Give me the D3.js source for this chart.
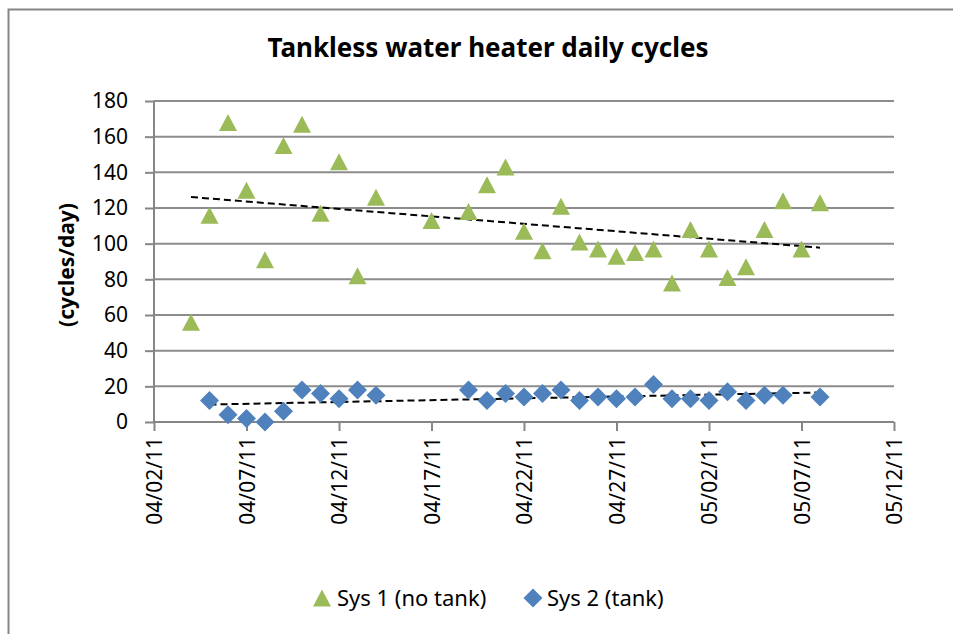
<!DOCTYPE html>
<html>
<head>
<meta charset="utf-8">
<script src="https://cdn.jsdelivr.net/npm/d3@7"></script>
<style>
  body { margin: 0; background: #fff; }
  svg { display: block; font-family: "Noto Sans", "Open Sans", sans-serif; }
</style>
</head>
<body>
<div id="chart"></div>
<script>
// data (mm/dd/yy, cycles per day)
var sys1Dates = ['04/04/11','04/05/11','04/06/11','04/07/11','04/08/11','04/09/11','04/10/11','04/11/11',
  '04/12/11','04/13/11','04/14/11','04/17/11','04/19/11','04/20/11','04/21/11','04/22/11','04/23/11',
  '04/24/11','04/25/11','04/26/11','04/27/11','04/28/11','04/29/11','04/30/11','05/01/11','05/02/11',
  '05/03/11','05/04/11','05/05/11','05/06/11','05/07/11','05/08/11'];
var sys1Values = [56,116,168,130,91,155,167,117,146,82,126,113,118,133,143,107,96,
  121,101,97,93,95,97,78,108,97,81,87,108,124,97,123];

var sys2Dates = ['04/05/11','04/06/11','04/07/11','04/08/11','04/09/11','04/10/11','04/11/11','04/12/11',
  '04/13/11','04/14/11','04/19/11','04/20/11','04/21/11','04/22/11','04/23/11','04/24/11','04/25/11',
  '04/26/11','04/27/11','04/28/11','04/29/11','04/30/11','05/01/11','05/02/11','05/03/11','05/04/11',
  '05/05/11','05/06/11','05/08/11'];
var sys2Values = [12,4,2,0,6,18,16,13,18,15,18,12,16,14,16,18,12,
  14,13,14,21,13,13,12,17,12,15,15,14];

var xTickLabels = ['04/02/11','04/07/11','04/12/11','04/17/11','04/22/11','04/27/11','05/02/11','05/07/11','05/12/11'];
var yTicks = [0,20,40,60,80,100,120,140,160,180];

var seriesNames = ['Sys 1 (no tank)','Sys 2 (tank)'];
var seriesColors = ['#9BBB59','#4F81BD'];

var parse = d3.utcParse('%m/%d/%y');
var W = 953, H = 634;
var pLeft = 154, pRight = 894, pTop = 101, pBottom = 422;

var svg = d3.select('#chart').append('svg').attr('width',W).attr('height',H);

// outer chart frame (runs off the right/bottom edges)
svg.append('rect').attr('x',8.5).attr('y',9.5).attr('width',980).attr('height',660)
  .attr('fill','none').attr('stroke','#868686').attr('stroke-width',2);

var x = d3.scaleUtc()
  .domain([parse(xTickLabels[0]), parse(xTickLabels[xTickLabels.length-1])])
  .range([pLeft,pRight]);
var y = d3.scaleLinear().domain([0,180]).range([pBottom,pTop]);

// gridlines
svg.append('g').selectAll('line').data(yTicks.slice(1)).enter().append('line')
  .attr('x1',pLeft).attr('x2',pRight)
  .attr('y1',function(d){return y(d);}).attr('y2',function(d){return y(d);})
  .attr('stroke','#8c8c8c').attr('stroke-width',2);

var yAxis = svg.append('g').attr('transform','translate('+pLeft+',0)')
  .call(d3.axisLeft(y).tickValues(yTicks).tickSize(9).tickPadding(17));
var xAxis = svg.append('g').attr('transform','translate(0,'+pBottom+')')
  .call(d3.axisBottom(x).tickValues(xTickLabels.map(parse)).tickSize(9)
    .tickFormat(d3.utcFormat('%m/%d/%y')));

[yAxis,xAxis].forEach(function(a){
  a.select('.domain').attr('stroke','#868686').attr('stroke-width',2);
  a.selectAll('.tick line').attr('stroke','#868686').attr('stroke-width',2);
  a.selectAll('text').attr('fill','#000').style('font-size','21px')
    .style('font-family','"Noto Sans", sans-serif');
});
yAxis.select('.domain').attr('d','M0,'+pBottom+'V'+pTop);
xAxis.select('.domain').attr('d','M'+pLeft+',0H'+pRight);

xAxis.selectAll('.tick text')
  .attr('transform','rotate(-90)')
  .attr('text-anchor','end')
  .attr('x',-15).attr('y',0).attr('dy','0.36em');

// linear trendlines (least squares), spanning each series' first to last date
function trend(dates,vals){
  var xs = dates.map(function(d){return +parse(d);});
  var mx = d3.mean(xs), my = d3.mean(vals);
  var sxy = d3.sum(xs,function(v,i){return (v-mx)*(vals[i]-my);});
  var sxx = d3.sum(xs,function(v){return (v-mx)*(v-mx);});
  var b = sxy/sxx, a = my - b*mx;
  var x0 = d3.min(xs), x1 = d3.max(xs);
  return [[x0,a+b*x0],[x1,a+b*x1]];
}
[[sys1Dates,sys1Values],[sys2Dates,sys2Values]].forEach(function(s){
  var t = trend(s[0],s[1]);
  svg.append('line')
    .attr('x1',x(t[0][0])).attr('y1',y(t[0][1]))
    .attr('x2',x(t[1][0])).attr('y2',y(t[1][1]))
    .attr('stroke','#000').attr('stroke-width',2).attr('stroke-dasharray','7,4');
});

function triPath(cx,cy){ return 'M'+cx+','+(cy-8.5)+'L'+(cx+9)+','+(cy+8.5)+'L'+(cx-9)+','+(cy+8.5)+'Z'; }
function diaPath(cx,cy){ return 'M'+cx+','+(cy-9.5)+'L'+(cx+9.5)+','+cy+'L'+cx+','+(cy+9.5)+'L'+(cx-9.5)+','+cy+'Z'; }

svg.append('g').selectAll('path').data(sys2Dates).enter().append('path')
  .attr('d',function(d,i){return diaPath(x(parse(d)),y(sys2Values[i]));})
  .attr('fill',seriesColors[1]);
svg.append('g').selectAll('path').data(sys1Dates).enter().append('path')
  .attr('d',function(d,i){return triPath(x(parse(d)),y(sys1Values[i]));})
  .attr('fill',seriesColors[0]);

// title
svg.append('text').attr('x',488).attr('y',57).attr('text-anchor','middle')
  .style('font-size','26px').style('font-weight','bold').text('Tankless water heater daily cycles');

// y axis title
svg.append('text').attr('transform','translate(74,265) rotate(-90)').attr('text-anchor','middle')
  .style('font-size','21px').style('font-weight','bold').text('(cycles/day)');

// legend
var lg = svg.append('g');
lg.append('path').attr('d',triPath(322,598)).attr('fill',seriesColors[0]);
lg.append('text').attr('x',337).attr('y',606).style('font-size','22px').text(seriesNames[0]);
lg.append('path').attr('d',diaPath(533,598)).attr('fill',seriesColors[1]);
lg.append('text').attr('x',547).attr('y',606).style('font-size','22px').text(seriesNames[1]);
</script>
</body>
</html>
